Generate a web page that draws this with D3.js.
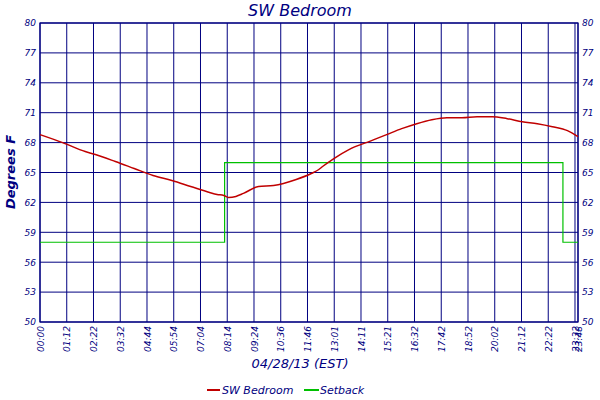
<!DOCTYPE html>
<html><head><meta charset="utf-8">
<script src="https://cdn.jsdelivr.net/npm/d3@7"></script>
<style>body{margin:0;background:#fff}text{font-family:"DejaVu Sans",Verdana,sans-serif;font-style:italic;fill:#000080}</style>
</head><body><svg id="c" width="600" height="400"></svg>
<script>
const xTickLabels=["00:00","01:12","02:22","03:32","04:44","05:54","07:04","08:14","09:24","10:36","11:46","13:01","14:11","15:21","16:32","17:42","18:52","20:02","21:12","22:22","23:32","23:48"];
const xTickMinutes=[0,71,142,213,284,355,426,497,568,639,710,781,852,923,994,1065,1136,1207,1278,1349,1420,1428];
const yTicks=[50,53,56,59,62,65,68,71,74,77,80];
const tempMinutes=[0,60,120,147,200,250,300,350,400,450,470,488,500,520,540,580,620,680,720,740,750,780,820,880,920,960,1000,1040,1080,1120,1160,1200,1240,1280,1320,1360,1400,1428];
const tempValues=[68.8,68.0,67.1,66.8,66.1,65.4,64.7,64.2,63.6,63.0,62.8,62.7,62.5,62.6,62.9,63.6,63.7,64.3,64.9,65.3,65.6,66.4,67.3,68.2,68.8,69.4,69.9,70.3,70.5,70.5,70.6,70.6,70.4,70.1,69.9,69.6,69.2,68.6];
const setbackMinutes=[0,490,490,1388,1388,1428];
const setbackValues=[58,58,66,66,58,58];
const svg=d3.select("#c");
const L=40,R=578,T=23,B=322;
const x=d3.scaleLinear().domain([0,1428]).range([L,R]);
const y=d3.scaleLinear().domain([50,80]).range([B,T]);
const g=svg.append("g");
const tv=xTickMinutes;
g.selectAll(".vg").data(tv).enter().append("line").attr("x1",d=>x(d)).attr("x2",d=>x(d)).attr("y1",T).attr("y2",B).attr("stroke","#000080").attr("stroke-width",1);
g.selectAll(".hg").data(yTicks).enter().append("line").attr("x1",L).attr("x2",R).attr("y1",d=>y(d)).attr("y2",d=>y(d)).attr("stroke","#000080").attr("stroke-width",1);
svg.append("rect").attr("x",L).attr("y",T).attr("width",R-L).attr("height",B-T).attr("fill","none").attr("stroke","#000080").attr("stroke-width",1.2);
const yl=d3.axisLeft(y).tickValues(yTicks).tickSize(0).tickPadding(4);
const yr=d3.axisRight(y).tickValues(yTicks).tickSize(0).tickPadding(4);
const a1=svg.append("g").attr("transform",`translate(${L},0)`).call(yl);
const a2=svg.append("g").attr("transform",`translate(${R},0)`).call(yr);
[a1,a2].forEach(a=>{a.select(".domain").remove();a.selectAll("text").attr("font-size",9).attr("fill","#000080").attr("font-family","DejaVu Sans").attr("font-style","italic");});
const xa=d3.axisBottom(x).tickValues(tv).tickFormat((d,i)=>xTickLabels[i]).tickSize(0).tickPadding(0);
const ax=svg.append("g").attr("transform",`translate(0,${B})`).call(xa);
ax.select(".domain").remove();
ax.selectAll("text").attr("font-size",9).attr("fill","#000080").attr("font-family","DejaVu Sans").attr("font-style","italic")
 .attr("text-anchor","end").attr("transform","translate(0,4) rotate(-90)").attr("x",0).attr("y",0).attr("dy","0.35em");
const line=d3.line().x(d=>x(d[0])).y(d=>y(d[1]));
svg.append("path").attr("d",line(setbackMinutes.map((m,i)=>[m,setbackValues[i]]))).attr("fill","none").attr("stroke","#00c000").attr("stroke-width",1.2);
svg.append("path").attr("d",d3.line().x(d=>x(d[0])).y(d=>y(d[1])).curve(d3.curveMonotoneX)(tempMinutes.map((m,i)=>[m,tempValues[i]]))).attr("fill","none").attr("stroke","#c00000").attr("stroke-width",1.5);
svg.append("text").attr("x",300).attr("y",16).attr("text-anchor","middle").attr("font-size",16).text("SW Bedroom");
svg.append("text").attr("transform","translate(15,172) rotate(-90)").attr("text-anchor","middle").attr("font-size",13).attr("font-weight","bold").attr("font-family","DejaVu Serif").text("Degrees F");
svg.append("text").attr("x",300).attr("y",368).attr("text-anchor","middle").attr("font-size",13).text("04/28/13 (EST)");
const lg=svg.append("g").attr("transform","translate(0,390)");
lg.append("line").attr("x1",207).attr("x2",220).attr("y1",0).attr("y2",0).attr("stroke","#c00000").attr("stroke-width",2);
lg.append("text").attr("x",222).attr("y",4).attr("font-size",11).text("SW Bedroom");
lg.append("line").attr("x1",304).attr("x2",319).attr("y1",0).attr("y2",0).attr("stroke","#00c000").attr("stroke-width",2);
lg.append("text").attr("x",320).attr("y",4).attr("font-size",11).text("Setback");
</script></body></html>
